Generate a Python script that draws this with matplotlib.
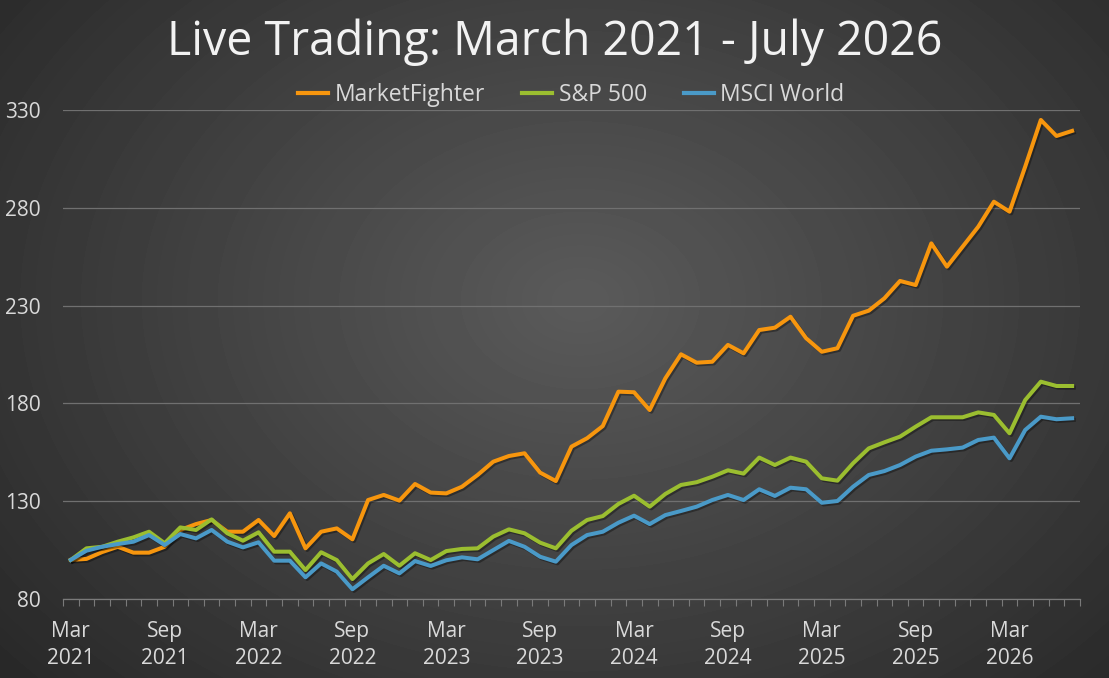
import numpy as np
import matplotlib.pyplot as plt
import matplotlib.patheffects as pe
from matplotlib.ticker import FixedLocator

# Datos mensuales: marzo 2021 - julio 2026
meses = ["Mar", "Apr", "May", "Jun", "Jul", "Aug", "Sep", "Oct", "Nov", "Dec", "Jan", "Feb"]
etiquetas = []
for i in range(65):
    mes = meses[i % 12]
    anio = 2021 + (i + 2) // 12
    etiquetas.append(f"{mes}\n{anio}")

marketfighter = [100.0, 100.5, 104.0, 106.7, 103.7, 103.7, 106.7, 115.3, 118.3, 120.4,
                 114.4, 114.4, 120.4, 112.2, 123.8, 105.9, 114.4, 116.1, 110.5, 130.6,
                 133.2, 130.3, 138.8, 134.4, 134.0, 137.4, 143.4, 150.2, 153.1, 154.5,
                 144.6, 140.3, 157.9, 162.2, 168.4, 186.0, 185.7, 176.6, 192.8, 205.1,
                 200.8, 201.3, 209.9, 205.6, 217.5, 218.7, 224.3, 213.3, 206.4, 208.2,
                 224.8, 227.4, 233.7, 242.6, 240.5, 261.8, 249.9, 260.1, 270.3, 283.1,
                 278.0, 301.0, 324.9, 316.7, 319.3]

sp500 = [100.0, 105.9, 106.7, 109.3, 111.5, 114.4, 108.5, 116.6, 115.3, 120.7,
         113.6, 109.8, 114.1, 104.2, 104.2, 94.8, 103.9, 99.9, 90.2, 98.2,
         103.0, 97.0, 103.4, 99.9, 104.5, 105.6, 105.9, 111.9, 115.6, 113.6,
         108.8, 105.9, 114.9, 120.4, 122.4, 128.6, 132.8, 127.2, 133.7, 138.3,
         139.7, 142.5, 145.8, 144.1, 152.3, 148.5, 152.3, 150.2, 141.7, 140.5,
         149.4, 157.0, 160.1, 163.0, 168.1, 172.9, 172.9, 172.9, 175.4, 174.1,
         164.7, 181.7, 191.1, 188.9, 188.9]

msci = [100.0, 104.7, 106.7, 108.1, 109.3, 112.7, 107.6, 113.2, 111.0, 115.3,
        109.3, 106.4, 109.0, 99.6, 99.6, 91.1, 98.2, 94.0, 85.0, 91.1,
        97.0, 93.1, 99.4, 96.9, 99.8, 101.3, 100.3, 105.0, 109.7, 106.7,
        101.6, 99.1, 107.6, 112.7, 114.4, 119.0, 122.6, 118.3, 122.9, 125.0,
        127.2, 130.6, 133.2, 130.6, 136.1, 132.7, 136.9, 136.1, 129.2, 130.1,
        137.4, 143.4, 145.4, 148.5, 152.8, 155.8, 156.5, 157.4, 161.3, 162.5,
        151.9, 166.4, 173.2, 171.9, 172.4]

plt.rcParams['font.family'] = ['Open Sans', 'DejaVu Sans']

fig = plt.figure(figsize=(11.09, 6.78), dpi=100)

# Fondo con degradado radial
bg = fig.add_axes([0, 0, 1, 1])
yy, xx = np.mgrid[0:678, 0:1109]
r = np.sqrt(((xx - 580) / 700.0) ** 2 + ((yy - 300) / 520.0) ** 2)
grad = np.clip(0.355 - 0.18 * r, 0.14, 0.355)
bg.imshow(grad, cmap="gray", vmin=0, vmax=1, aspect="auto", extent=[0, 1, 0, 1])
bg.axis("off")

ax = fig.add_axes([0.0568, 0.1165, 0.917, 0.7213])
ax.patch.set_alpha(0)
x = np.arange(len(marketfighter))

sombra = [pe.SimpleLineShadow(offset=(1.2, -1.2), shadow_color="black", alpha=0.35), pe.Normal()]
ax.plot(x, marketfighter, color="#F7960E", lw=2.9, label="MarketFighter", path_effects=sombra)
ax.plot(x, sp500, color="#9BBE30", lw=2.9, label="S&P 500", path_effects=sombra)
ax.plot(x, msci, color="#4A9AC8", lw=2.9, label="MSCI World", path_effects=sombra)

ax.set_xlim(-0.5, len(x) - 0.5)
ax.set_ylim(80, 330)
ax.set_yticks([80, 130, 180, 230, 280, 330])
ax.yaxis.grid(True, color="#707070", lw=0.9)
ax.set_axisbelow(True)

ax.set_xticks(x[::6])
ax.set_xticklabels(etiquetas[::6])
ax.xaxis.set_minor_locator(FixedLocator(np.arange(-0.5, len(x), 1)))
ax.tick_params(axis="x", which="major", length=0, pad=16, labelsize=15, colors="#d9d9d9")
ax.tick_params(axis="x", which="minor", length=5, width=0.8, color="#7a7a7a", direction="out")
ax.tick_params(axis="y", length=0, pad=16, labelsize=15, colors="#d9d9d9")
for lbl in ax.get_xticklabels():
    lbl.set_linespacing(1.35)

for s in ["top", "right", "left"]:
    ax.spines[s].set_visible(False)
ax.spines["bottom"].set_color("#7a7a7a")
ax.spines["bottom"].set_linewidth(0.9)

fig.text(0.5, 0.937, "Live Trading: March 2021 - July 2026", ha="center", va="center",
         fontsize=33.5, color="#f2f2f2")

leg = ax.legend(loc="center", bbox_to_anchor=(0.5, 1.03), ncol=3, frameon=False,
                fontsize=16.5, handlelength=1.3, handletextpad=0.3, columnspacing=1.6,
                labelcolor="#d9d9d9")
for h in leg.get_lines():
    h.set_linewidth(3)
    h.set_path_effects([])

fig.savefig("out.png", dpi=100)
